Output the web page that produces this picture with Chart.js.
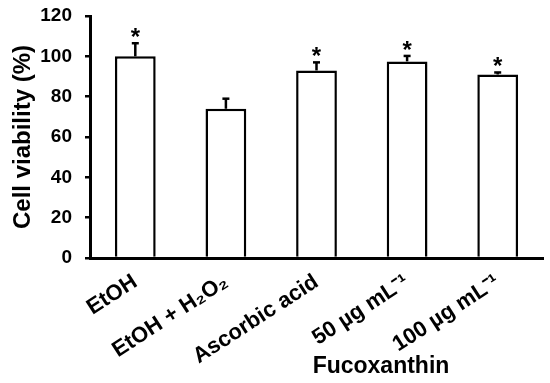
<!DOCTYPE html>
<html>
<head>
<meta charset="utf-8">
<script src="https://cdn.jsdelivr.net/npm/chart.js@4/dist/chart.umd.min.js"></script>
<style>
html,body{margin:0;padding:0;background:#fff;}
#wrap{position:relative;width:550px;height:383px;}
</style>
</head>
<body>
<div id="wrap"><canvas id="c" width="550" height="383"></canvas></div>
<script>
const categories = ['EtOH', 'EtOH + H\u2082O\u2082', 'Ascorbic acid', '50 \u00b5g mL\u207b\u00b9', '100 \u00b5g mL\u207b\u00b9'];
const viability = [100, 74, 93, 97.5, 91];
const errorUp = [6.5, 5, 4, 2.7, 1];
const significant = [true, false, true, true, true];
const yTickMin = 0;
const yTickMax = 120;
const yTickStep = 20;
const yTitle = 'Cell viability (%)';
const groupLabel = 'Fucoxanthin';

const FONT = "'Liberation Sans', Arial, sans-serif";

const extras = {
  id: 'extras',
  afterDatasetsDraw(chart) {
    const ctx = chart.ctx;
    const xs = chart.scales.x, ys = chart.scales.y;
    ctx.save();
    ctx.strokeStyle = '#000';
    ctx.fillStyle = '#000';
    for (let i = 0; i < viability.length; i++) {
      const x = xs.getPixelForValue(i);
      const yb = ys.getPixelForValue(viability[i]);
      const yt = ys.getPixelForValue(viability[i] + errorUp[i]);
      ctx.lineWidth = 2.5;
      ctx.beginPath();
      ctx.moveTo(x, yb);
      ctx.lineTo(x, yt);
      ctx.stroke();
      ctx.beginPath();
      ctx.moveTo(x - 3.5, yt);
      ctx.lineTo(x + 3.5, yt);
      ctx.stroke();
      if (significant[i]) {
        ctx.font = 'bold 24px ' + FONT;
        ctx.textAlign = 'center';
        ctx.textBaseline = 'alphabetic';
        ctx.fillText('*', x, yt + 2);
      }
    }
    ctx.font = 'bold 23px ' + FONT;
    ctx.textAlign = 'center';
    ctx.textBaseline = 'middle';
    ctx.fillText(groupLabel, 381, 367);
    ctx.restore();
  }
};

new Chart(document.getElementById('c'), {
  type: 'bar',
  data: {
    labels: categories,
    datasets: [{
      data: viability,
      backgroundColor: '#fff',
      borderColor: '#000',
      borderWidth: 2.5,
      categoryPercentage: 1,
      barPercentage: 0.45
    }]
  },
  options: {
    responsive: false,
    animation: false,
    devicePixelRatio: 1,
    layout: { padding: { top: 16, right: 7, bottom: 0, left: 0 } },
    plugins: { legend: { display: false }, tooltip: { enabled: false } },
    scales: {
      x: {
        grid: { display: false },
        border: { display: true, color: '#000', width: 3 },
        ticks: {
          color: '#000',
          font: { family: FONT, size: 22, weight: 'bold' },
          minRotation: 33, maxRotation: 33,
          autoSkip: false,
          padding: 3
        },
        afterFit(s) { s.height = 125; s.paddingLeft = 0; s.paddingRight = 0; }
      },
      y: {
        min: yTickMin, max: yTickMax,
        grid: { display: true, drawOnChartArea: false, drawTicks: true, tickLength: 5, color: '#000', lineWidth: 2.5 },
        border: { display: true, color: '#000', width: 3 },
        ticks: {
          stepSize: yTickStep,
          color: '#000',
          font: { family: FONT, size: 19, weight: 'bold' },
          padding: 13
        },
        title: {
          display: true, text: yTitle, color: '#000',
          font: { family: FONT, size: 24, weight: 'bold' },
          padding: { top: 9, bottom: 0 }
        },
        afterFit(s) { s.width = 90; s.paddingTop = 0; s.paddingBottom = 0; }
      }
    }
  },
  plugins: [extras]
});
</script>
</body>
</html>
